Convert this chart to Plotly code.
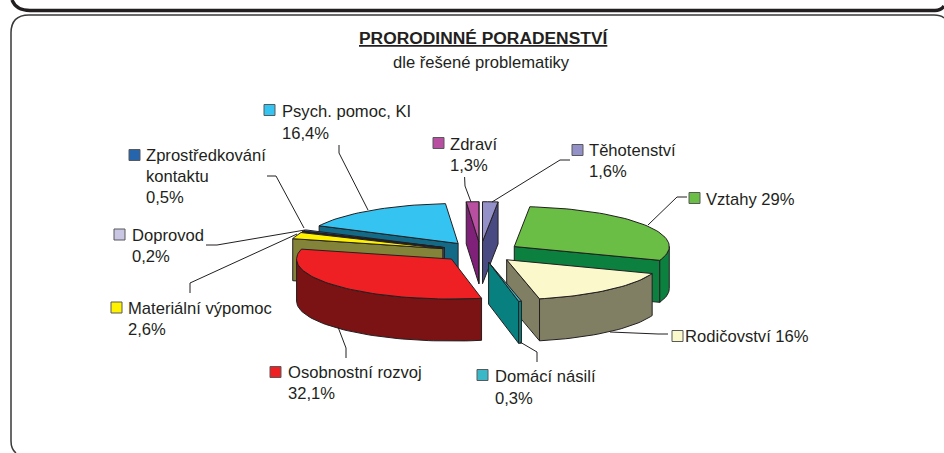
import math
import plotly.graph_objects as go

# ---- data (clockwise from 12 o'clock) ----
categories = ["Těhotenství", "Vztahy", "Rodičovství", "Domácí násilí", "Osobnostní rozvoj",
              "Materiální výpomoc", "Doprovod", "Zprostředkování kontaktu", "Psych. pomoc, KI", "Zdraví"]
values = [1.6, 29, 16, 0.3, 32.1, 2.6, 0.2, 0.5, 16.4, 1.3]
value_labels = ["1,6%", "29%", "16%", "0,3%", "32,1%", "2,6%", "0,2%", "0,5%", "16,4%", "1,3%"]
top_colors = ["#9490C8", "#6ABD45", "#FBF8CC", "#3BB8C8", "#EE2024",
              "#FFF200", "#C9C6E4", "#2565AE", "#35C4F2", "#B84FA0"]
side_colors = ["#4A4A82", "#0B803F", "#807F64", "#08807F", "#7B1214",
               "#84833A", "#5E5C78", "#16365F", "#126A86", "#7F2178"]
paint_order = [8, 9, 0, 7, 6, 5, 1, 4, 2, 3]

# ---- pie geometry ----
CX, CY, RX, RY, DEPTH, EXPLODE = 480.5, 252, 155, 40, 42, 0.257
INK = "#231F20"
KEY_EDGE = "#58595B"
FONT = "Liberation Sans, Arial, sans-serif"

total = sum(values)
angles = [0.0]
for v in values:
    angles.append(angles[-1] + v / total * 360)


def pt(apex, deg, dz=0.0):
    r = math.radians(deg)
    return apex[0] + RX * math.sin(r), apex[1] - RY * math.cos(r) + dz


def arc(apex, a, b, dz=0.0):
    n = max(2, int(abs(b - a) / 2) + 2)
    return [pt(apex, a + (b - a) * i / (n - 1), dz) for i in range(n)]


fig = go.Figure()


def face(points, color):
    xs = [p[0] for p in points] + [points[0][0]]
    ys = [p[1] for p in points] + [points[0][1]]
    fig.add_trace(go.Scatter(x=xs, y=ys, mode="lines", fill="toself", fillcolor=color,
                             line=dict(color=INK, width=1), hoverinfo="skip", showlegend=False))


for i in paint_order:
    a, b = angles[i], angles[i + 1]
    mid = math.radians((a + b) / 2)
    apex = (CX + EXPLODE * RX * math.sin(mid), CY - EXPLODE * RY * math.cos(mid))
    low = (apex[0], apex[1] + DEPTH)
    # radial walls that face the viewer
    if math.sin(math.radians(a)) < 0:
        face([apex, pt(apex, a), pt(apex, a, DEPTH), low], side_colors[i])
    if math.sin(math.radians(b)) > 0:
        face([apex, pt(apex, b), pt(apex, b, DEPTH), low], side_colors[i])
    # outer wall, front half only
    fa, fb = max(a, 90), min(b, 270)
    if fb > fa:
        face(arc(apex, fa, fb) + arc(apex, fb, fa, DEPTH), side_colors[i])
    # top
    face([apex] + arc(apex, a, b), top_colors[i])

# ---- labels: key square position, text position, text lines ----
label_keys = {
    "Psych. pomoc, KI": (264, 110, 281, [111, 133]),
    "Zprostředkování kontaktu": (129, 155, 145, [155, 176, 197]),
    "Doprovod": (114, 234.5, 131, [235, 256]),
    "Materiální výpomoc": (111, 307.5, 127, [308, 329]),
    "Osobnostní rozvoj": (270, 372, 287, [372, 393]),
    "Domácí násilí": (477, 375, 494, [376, 398]),
    "Rodičovství": (672, 336, 684, [336]),
    "Vztahy": (689, 198, 705, [199]),
    "Těhotenství": (572, 150, 588, [150, 171]),
    "Zdraví": (433, 143, 449, [144, 165]),
}
label_lines = {
    "Zprostředkování kontaktu": ["Zprostředkování", "kontaktu"],
}
leaders = [
    [(339, 145), (339, 153), (368, 210)],
    [(267, 176), (276, 176), (304, 228)],
    [(206, 245), (217, 245), (305, 230)],
    [(190, 293), (190, 283), (297, 234)],
    [(346, 358), (346, 348), (338, 327)],
    [(537, 362), (537, 352), (520, 342)],
    [(668, 334), (658, 334), (610, 332)],
    [(687, 197), (677, 197), (648, 225)],
    [(570, 160), (560, 160), (492, 202)],
    [(464.6, 177), (465, 186), (471, 202)],
]

annotations = []
shapes = []


def text(x, y, s, anchor="left", size=16.6, color=INK):
    annotations.append(dict(x=x, y=y, text=s, showarrow=False, xanchor=anchor, yanchor="middle",
                            xref="x", yref="y", align=anchor, borderpad=0,
                            font=dict(family=FONT, size=size, color=color)))


for name, label in zip(categories, value_labels):
    kx, ky, tx, ys = label_keys[name]
    lines = list(label_lines.get(name, [name]))
    if len(ys) == 1:
        lines[-1] = lines[-1] + " " + label
    else:
        lines.append(label)
    for y, s in zip(ys, lines):
        text(tx, y, s)
    color = top_colors[categories.index(name)]
    shapes.append(dict(type="rect", x0=kx, x1=kx + 11, y0=ky - 5.5, y1=ky + 5.5, xref="x", yref="y",
                       fillcolor=color, line=dict(color=KEY_EDGE, width=1)))

for route in leaders:
    path = "M " + " L ".join(f"{x} {y}" for x, y in route)
    shapes.append(dict(type="path", path=path, xref="x", yref="y",
                       line=dict(color=INK, width=1)))

text(483.5, 38, "<b><u>PRORODINNÉ PORADENSTVÍ</u></b>", anchor="center", size=17.4)
text(481, 62, "dle řešené problematiky", anchor="center")

# ---- panel frames ----
shapes.append(dict(type="path", xref="x", yref="y", line=dict(color=INK, width=3.4),
                   path="M 12 0 Q 16 10.5 30 10.5 L 935 10.5 Q 941 10.5 944 6"))
shapes.append(dict(type="path", xref="x", yref="y", line=dict(color="#3A3839", width=1.5),
                   path="M 16 453 Q 11 449 11 441 L 11 33 Q 11 15 29 15 L 934 15 Q 941 15 944 18"))

fig.update_layout(
    width=944, height=453, margin=dict(l=0, r=0, t=0, b=0),
    paper_bgcolor="white", plot_bgcolor="white", showlegend=False,
    xaxis=dict(range=[0, 944], visible=False, fixedrange=True),
    yaxis=dict(range=[453, 0], visible=False, fixedrange=True),
    annotations=annotations, shapes=shapes,
)
fig.write_html("out.html", config={"displayModeBar": False},
               post_script="document.body.style.margin='0';document.body.style.overflow='hidden';")
